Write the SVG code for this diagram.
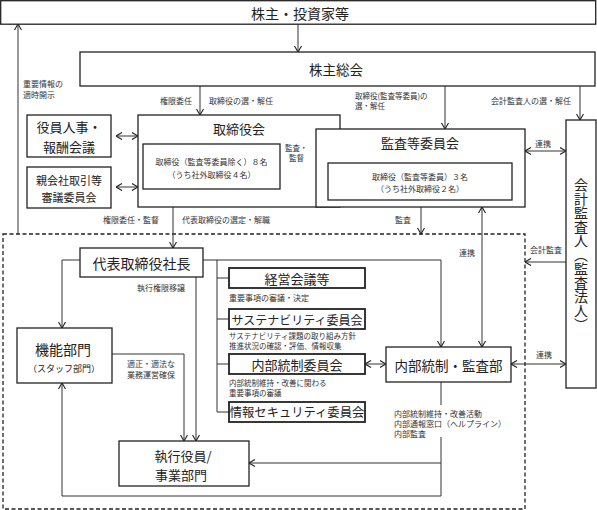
<svg xmlns="http://www.w3.org/2000/svg" width="597" height="510" viewBox="0 0 597 510">
<defs>
<marker id="ah" viewBox="0 0 7 8" refX="6.5" refY="4" markerWidth="7" markerHeight="8" markerUnits="userSpaceOnUse" orient="auto-start-reverse">
<path d="M0.5,0.5 L6.5,4 L0.5,7.5" fill="none" stroke="#222" stroke-width="1.1"/>
</marker>
<style>
text{font-family:"Noto Sans CJK JP","Noto Sans",sans-serif;fill:#222;dominant-baseline:central}
.box{fill:#fff;stroke:#222;stroke-width:1.3}
.cbox{fill:#fff;stroke:#222;stroke-width:1.8}
.ln{fill:none;stroke:#333;stroke-width:1}
.ar{fill:none;stroke:#333;stroke-width:1;marker-end:url(#ah)}
.ar2{fill:none;stroke:#333;stroke-width:1;marker-end:url(#ah);marker-start:url(#ah)}
.dash{fill:none;stroke:#222;stroke-width:1.3;stroke-dasharray:4 2.5}
.s{font-size:8px;fill:#333}
.xs{font-size:7.5px;fill:#333}
.m{text-anchor:middle}
</style>
</defs>

<rect class="dash" x="3" y="234" width="522" height="275"/>

<g id="connectors">
<path class="ar" d="M298,24 V52"/>
<path class="ar" d="M18,234 V24"/>
<path class="ar" d="M200,86 V115"/>
<path class="ar" d="M445,86 V129"/>
<path class="ar" d="M580,86 V120"/>
<path class="ar2" d="M116,136 H138"/>
<path class="ar2" d="M116,187 H138"/>
<path class="ar" d="M316,167 H280"/>
<path class="ar2" d="M525,151 H566"/>
<path class="ar" d="M173,207 V248"/>
<path class="ar" d="M421,207 V234"/>
<path class="ar2" d="M482,207 V347"/>
<path class="ar" d="M566,262 H525"/>
<path class="ar2" d="M511,364 H566"/>
<path class="ar" d="M203,260 H441 V347"/>
<path class="ar" d="M80,260 H62 V328"/>
<path class="ln" d="M217,260 V412 H229 M217,278 H229 M217,319 H229 M217,364 H229"/>
<path class="ar2" d="M365,364 H386"/>
<path class="ar" d="M196,277 V441"/>
<path class="ar" d="M112,354 H184 V441"/>
<path class="ln" d="M441,382 V405"/>
<path class="ar" d="M441,437 V496 H62 V383"/>
<path class="ar" d="M441,463 H249"/>
</g>

<g id="shareholders">
<rect class="box" x="0.7" y="0.7" width="595" height="23.5"/>
<text class="m" x="300" y="12.5" font-size="14">株主・投資家等</text>
</g>

<g id="agm">
<rect class="box" x="80" y="52" width="515" height="34"/>
<text class="m" x="336" y="69" font-size="13.5">株主総会</text>
</g>

<g id="board">
<rect class="box" x="138" y="115" width="202" height="92"/>
<text class="m" x="239" y="128" font-size="13">取締役会</text>
<rect class="box" x="143" y="144" width="137" height="45"/>
<text class="m s" x="211.5" y="161">取締役（監査等委員除く）８名</text>
<text class="m s" x="211.5" y="174">（うち社外取締役４名）</text>
</g>

<g id="audit-committee">
<rect class="box" x="316" y="129" width="209" height="78"/>
<text class="m" x="420" y="142" font-size="13">監査等委員会</text>
<rect class="box" x="328" y="163" width="184" height="37"/>
<text class="m s" x="420" y="176">取締役（監査等委員）３名</text>
<text class="m s" x="420" y="188">（うち社外取締役２名）</text>
</g>

<g id="nomination">
<rect class="box" x="27" y="115" width="84" height="42"/>
<text class="m" x="69" y="126" font-size="13">役員人事・</text>
<text class="m" x="69" y="146" font-size="13">報酬会議</text>
</g>

<g id="parent-committee">
<rect class="box" x="27" y="167" width="84" height="41"/>
<text class="m" x="69" y="180" font-size="11">親会社取引等</text>
<text class="m" x="69" y="197" font-size="11">審議委員会</text>
</g>

<g id="auditor">
<rect class="box" x="566" y="120" width="30" height="268"/>
<text x="581" y="255" font-size="14" text-anchor="middle" style="writing-mode:vertical-rl;dominant-baseline:auto">会計監査人（監査法人）</text>
</g>

<g id="president">
<rect class="box" x="80" y="248" width="123" height="29"/>
<text class="m" x="141.5" y="263" font-size="14">代表取締役社長</text>
</g>

<g id="staff">
<rect class="box" x="17" y="328" width="95" height="55"/>
<text class="m" x="63" y="349" font-size="14">機能部門</text>
<text class="m" x="64" y="368" font-size="9">（スタッフ部門）</text>
</g>

<g id="business">
<rect class="box" x="119" y="441" width="130" height="45"/>
<text class="m" x="183" y="455" font-size="13">執行役員/</text>
<text class="m" x="181" y="474" font-size="13">事業部門</text>
</g>

<g id="internal-audit">
<rect class="box" x="386" y="347" width="125" height="35"/>
<text class="m" x="448.5" y="365" font-size="13.5">内部統制・監査部</text>
</g>

<g id="mgmt-meeting">
<rect class="cbox" x="229" y="268" width="136" height="20"/>
<text class="m" x="297" y="278" font-size="13">経営会議等</text>
</g>
<g id="sustainability">
<rect class="cbox" x="229" y="309" width="136" height="20"/>
<text class="m" x="297" y="319" font-size="12">サステナビリティ委員会</text>
</g>
<g id="ic-committee">
<rect class="cbox" x="229" y="354" width="136" height="20"/>
<text class="m" x="297" y="364" font-size="13">内部統制委員会</text>
</g>
<g id="infosec">
<rect class="cbox" x="229" y="402" width="136" height="20"/>
<text class="m" x="297" y="412" font-size="12.3">情報セキュリティ委員会</text>
</g>

<g id="labels">
<text class="s" x="23" y="83">重要情報の</text>
<text class="s" x="23" y="94">適時開示</text>
<text class="s" x="192" y="100" text-anchor="end">権限委任</text>
<text class="s" x="209" y="100">取締役の選・解任</text>
<text class="xs" x="355" y="95">取締役(監査等委員)の</text>
<text class="xs" x="355" y="105">選・解任</text>
<text class="s" x="491" y="100">会計監査人の選・解任</text>
<text class="xs" x="285" y="147">監査・</text>
<text class="xs" x="289" y="157">監督</text>
<text class="s m" x="543" y="143">連携</text>
<text class="s" x="103" y="219">権限委任・監督</text>
<text class="s" x="182" y="219">代表取締役の選定・解職</text>
<text class="s" x="395" y="219">監査</text>
<text class="s" x="459" y="252">連携</text>
<text class="s" x="530" y="249">会計監査</text>
<text class="s" x="536" y="354">連携</text>
<text class="s" x="137" y="287">執行権限移譲</text>
<text class="s" x="127" y="363">適正・適法な</text>
<text class="s" x="127" y="374">業務運営確保</text>
<text class="s" x="229" y="297">重要事項の審議・決定</text>
<text class="xs" x="229" y="335">サステナビリティ課題の取り組み方針</text>
<text class="xs" x="229" y="345">推進状況の確認・評価、情報収集</text>
<text class="xs" x="229" y="382">内部統制維持・改善に関わる</text>
<text class="xs" x="229" y="392">重要事項の審議</text>
<text class="s" x="394" y="413">内部統制維持・改善活動</text>
<text class="s" x="394" y="423">内部通報窓口（ヘルプライン）</text>
<text class="s" x="394" y="433">内部監査</text>
</g>
</svg>
